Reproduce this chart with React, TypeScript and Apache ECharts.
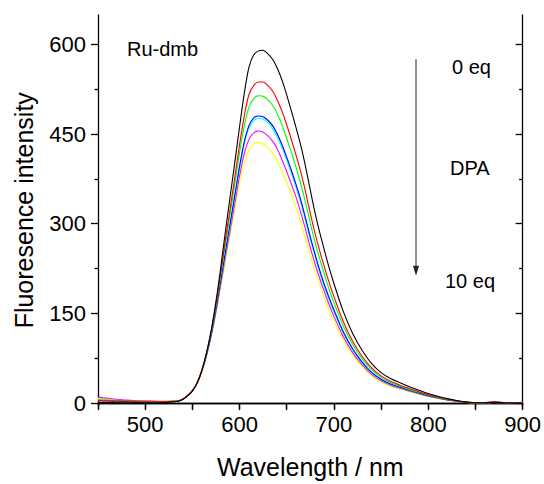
import React, { useEffect, useRef } from "react";
import * as echarts from "echarts";

const wavelengths = [450, 460, 470, 480, 490, 500, 510, 520, 530, 535, 540, 545, 550, 555, 560, 565, 570, 575, 580, 585, 590, 595, 600, 605, 610, 615, 620, 625, 630, 635, 640, 645, 650, 655, 660, 665, 670, 675, 680, 685, 690, 695, 700, 710, 720, 730, 740, 750, 760, 770, 780, 790, 800, 810, 820, 830, 840, 850, 860, 870, 880, 890, 900];

const black0 = [1, 1, 0.5, 0.5, 0.5, 0.5, 0.5, 1, 2, 3, 6, 12, 20, 33, 54, 84, 122, 170, 226, 287, 345, 403, 462, 518, 562, 582, 589, 590, 584, 575, 560, 540, 515, 488, 460, 430, 395, 356, 318, 285, 255, 226, 200, 153, 116, 88, 66, 51, 41, 34, 27.5, 21.5, 16, 11.5, 7.5, 4.5, 2, 0.5, 0.5, 1.5, 0.5, 0, 0];
const red1 = [4, 4, 3.5, 3.5, 3, 3, 3, 3, 3.5, 4, 7, 13, 21, 34, 55, 83.5, 120, 165, 217, 273, 325, 378, 432, 480, 516, 531, 537, 537, 531, 522, 507, 488, 465, 440, 414, 386, 353, 317, 284, 254, 227, 201, 178, 136, 103, 78, 59, 45.6, 36.5, 30, 24.5, 19, 14.2, 10.2, 6.7, 4, 1.7, 0.5, 1, 2, 1, 0.5, 0.5];
const green2 = [6, 5, 4.5, 4, 3.5, 3, 2.5, 2.5, 3, 3.5, 7, 12.6, 20.9, 34.3, 55, 83.3, 119, 163, 213, 266, 316, 367, 419, 464, 495, 509, 514, 513, 507, 498, 484, 465, 442, 419, 394, 366, 335, 301, 269, 241, 215, 190, 168, 129, 98, 74, 56, 43, 34.5, 28.5, 23, 18, 13.4, 9.6, 6.3, 3.8, 1.6, 0.5, 1, 1.5, 1, 0.5, 0.5];
const blue3 = [4, 3.5, 3, 2.5, 2, 2, 2, 2, 2.5, 3.5, 7, 12.4, 20.5, 33.7, 53.8, 81, 115, 157, 204, 253, 300, 348, 396, 437, 464, 477, 480, 479, 473, 464, 450, 432, 411, 389, 365, 339, 309, 278, 249, 222, 198, 176, 156, 119, 90.5, 68.5, 51.3, 40, 32, 26.5, 21.5, 16.8, 12.4, 8.9, 5.8, 3.5, 1.4, 0.5, 0.5, 1, 0.5, 0.5, 0.5];
const cyan4 = [5, 4.5, 3.5, 3, 2.5, 2, 2, 2, 2.5, 3.3, 6.7, 12.2, 20.2, 33.2, 53, 79.5, 113, 154.5, 201, 249, 296, 344, 392, 433, 460, 473, 476, 475, 469, 459, 445, 427, 406, 384, 360, 334, 304, 274, 245, 218, 194, 172, 153, 117, 88.5, 67, 50, 39, 31.3, 26, 21, 16.4, 12.1, 8.7, 5.7, 3.4, 1.4, 0.5, 0.5, 1, 0.5, 0.5, 0.5];
const magenta5 = [10, 8, 6.5, 5, 4, 3.5, 3, 2.5, 2.5, 3.5, 7, 12.4, 20.5, 33.6, 53.3, 79.5, 112.7, 153, 198, 244, 289, 334, 380, 417, 441, 452, 455, 453, 447, 438, 425, 407, 387, 366, 344, 318, 290, 260, 233, 208, 186, 164, 145, 111, 84, 64, 48, 37.3, 30, 24.8, 20.2, 15.7, 11.6, 8.3, 5.4, 3.2, 1.3, 0.5, 1, 2, 1, 0.5, 0.5];
const yellow6 = [7.5, 6, 5, 4, 3, 2.5, 2, 2, 2, 3, 7.1, 12.4, 20.5, 33.7, 53.2, 79, 111.5, 150.5, 194, 238, 281, 324, 368, 402.5, 423, 433.5, 436, 433, 427.6, 418, 405, 388, 369, 348, 327, 302, 274, 246, 220, 197, 176, 155, 137.5, 105, 80, 60, 45.4, 35.3, 28.4, 23.5, 19.2, 15, 11, 7.8, 5.1, 3, 1.2, 0.5, 0.5, 1, 1, 0.5, 0.5];

const seriesNames = ["yellow", "magenta", "cyan", "blue", "green", "red", "black"];
const seriesValues = [yellow6, magenta5, cyan4, blue3, green2, red1, black0];
const seriesColors = ["#ffff00", "#ff00ff", "#00ffff", "#0000ff", "#00ff00", "#ff0000", "#000000"];

const yMajorTicks = [0, 150, 300, 450, 600];
const yMinorTicks = [75, 225, 375, 525];

const arrowX = 787;
const arrowFrom = 575;
const arrowTo = 213;

const FONT = '"Liberation Sans", Arial, Helvetica, sans-serif';

export default function App() {
  const ref = useRef<HTMLDivElement>(null);

  useEffect(() => {
    const chart = echarts.init(ref.current!, null, { renderer: "svg" });
    const axisLine = { show: true, lineStyle: { color: "#000", width: 1.3 } };
    const tickStyle = { color: "#000", width: 1.3 };

    const option: any = {
      animation: false,
      backgroundColor: "#fff",
      grid: { left: 98, top: 15, right: 21, bottom: 77, containLabel: false },
      xAxis: [
        {
          type: "value",
          position: "bottom",
          min: 450,
          max: 900,
          interval: 50,
          axisLine,
          axisTick: { show: true, inside: false, length: 6, lineStyle: tickStyle },
          axisLabel: {
            formatter: (v: number) => (v % 100 === 0 ? String(v) : ""),
            fontSize: 22,
            color: "#000",
            fontFamily: FONT,
            margin: 8,
          },
          splitLine: { show: false },
          name: "Wavelength / nm",
          nameLocation: "middle",
          nameGap: 61,
          nameTextStyle: { fontSize: 25, color: "#000", fontFamily: FONT, verticalAlign: "middle" },
        },
        {
          type: "value",
          position: "top",
          min: 450,
          max: 900,
          interval: 50,
          axisLine,
          axisTick: { show: true, inside: true, length: 7, lineStyle: tickStyle },
          axisLabel: { show: false },
          splitLine: { show: false },
        },
      ],
      yAxis: [
        {
          type: "value",
          position: "left",
          min: -4,
          max: 649,
          axisLine,
          axisTick: { show: true, inside: false, length: 7, customValues: yMajorTicks, lineStyle: tickStyle },
          axisLabel: {
            customValues: yMajorTicks,
            fontSize: 22,
            color: "#000",
            fontFamily: FONT,
            margin: 12,
          },
          splitLine: { show: false },
          name: "Fluoresence intensity",
          nameLocation: "middle",
          nameGap: 74,
          nameTextStyle: { fontSize: 25, color: "#000", fontFamily: FONT, verticalAlign: "middle" },
        },
        {
          type: "value",
          position: "left",
          min: -4,
          max: 649,
          axisLine: { show: false },
          axisTick: { show: true, inside: false, length: 3.5, customValues: yMinorTicks, lineStyle: tickStyle },
          axisLabel: { show: false },
          splitLine: { show: false },
        },
        {
          type: "value",
          position: "right",
          min: -4,
          max: 649,
          axisLine,
          axisTick: { show: true, inside: true, length: 7, customValues: yMajorTicks, lineStyle: tickStyle },
          axisLabel: { show: false },
          splitLine: { show: false },
        },
        {
          type: "value",
          position: "right",
          min: -4,
          max: 649,
          axisLine: { show: false },
          axisTick: { show: true, inside: true, length: 3.5, customValues: yMinorTicks, lineStyle: tickStyle },
          axisLabel: { show: false },
          splitLine: { show: false },
        },
      ],
      series: seriesValues.map((vals, i) => ({
        name: seriesNames[i],
        type: "line",
        xAxisIndex: 0,
        yAxisIndex: 0,
        data: wavelengths.map((w, j) => [w, vals[j]]),
        showSymbol: false,
        symbol: "none",
        smooth: 0.3,
        lineStyle: { color: seriesColors[i], width: 1.1 },
        itemStyle: { color: seriesColors[i] },
        silent: true,
      })),
    };
    chart.setOption(option);

    const p0 = chart.convertToPixel({ seriesIndex: 0 }, [arrowX, arrowFrom]) as number[];
    const p1 = chart.convertToPixel({ seriesIndex: 0 }, [arrowX, arrowTo]) as number[];
    const textStyle = (text: string, x: number, y: number) => ({
      type: "text",
      x,
      y,
      style: { text, fontSize: 20, fontFamily: FONT, fill: "#000", verticalAlign: "middle", align: "left" },
    });
    chart.setOption({
      graphic: [
        textStyle("Ru-dmb", 127, 49),
        textStyle("0 eq", 452, 66.5),
        textStyle("DPA", 450, 168),
        textStyle("10 eq", 445, 281),
        {
          type: "line",
          shape: { x1: p0[0], y1: p0[1], x2: p1[0], y2: p1[1] - 9 },
          style: { stroke: "#222", lineWidth: 1 },
        },
        {
          type: "polygon",
          shape: { points: [[p1[0] - 3, p1[1] - 10], [p1[0] + 3, p1[1] - 10], [p1[0], p1[1]]] },
          style: { fill: "#222" },
        },
      ],
    });

    return () => chart.dispose();
  }, []);

  return <div ref={ref} style={{ position: "fixed", left: 0, top: 0, width: 544, height: 484 }} />;
}
